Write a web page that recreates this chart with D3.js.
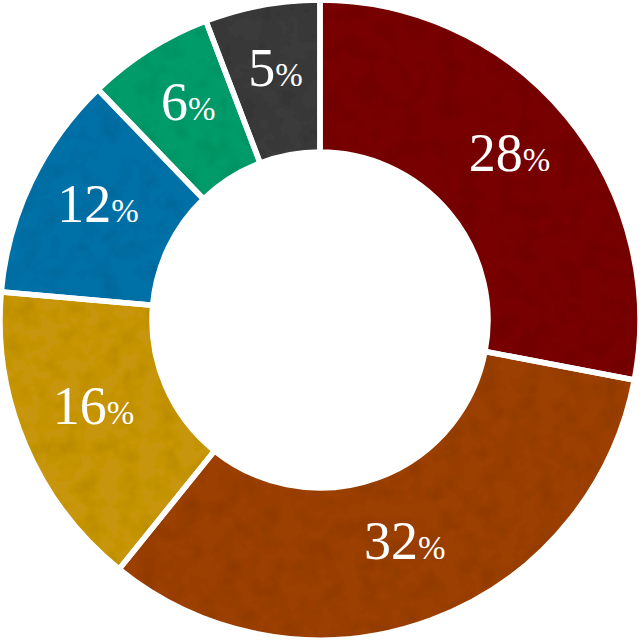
<!DOCTYPE html>
<html><head><meta charset="utf-8">
<script src="https://cdn.jsdelivr.net/npm/d3@7"></script>
<style>html,body{margin:0;padding:0;background:#fff}svg{display:block}</style>
</head><body>
<script>
const categories = ["A","B","C","D","E","F"];
const values = [28.0, 32.8, 15.6, 11.4, 6.4, 5.8];
const labels = ["28", "32", "16", "12", "6", "5"];
const colors = ["#780000", "#9b3f00", "#c8960a", "#0071a7", "#009b69", "#3b3b3b"];

const W = 640, H = 640;
const svg = d3.select("body").append("svg").attr("width", W).attr("height", H);

const defs = svg.append("defs");
const f = defs.append("filter").attr("id", "grain").attr("x", 0).attr("y", 0).attr("width", "100%").attr("height", "100%");
f.append("feTurbulence").attr("type", "fractalNoise").attr("baseFrequency", 0.05).attr("numOctaves", 3).attr("seed", 4).attr("result", "noise");
f.append("feColorMatrix").attr("in", "noise").attr("type", "matrix")
  .attr("values", "0 0 0 0 0  0 0 0 0 0  0 0 0 0 0  0 0 0 -0.35 0.2").attr("result", "dark");
f.append("feComposite").attr("in", "dark").attr("in2", "SourceGraphic").attr("operator", "in").attr("result", "darkIn");
f.append("feMerge").call(m => { m.append("feMergeNode").attr("in", "SourceGraphic"); m.append("feMergeNode").attr("in", "darkIn"); });

const g = svg.append("g").attr("transform", `translate(${W/2},${H/2})`);
const pie = d3.pie().sort(null).value(d => d);
const arcs = pie(values);
const arc = d3.arc().innerRadius(168).outerRadius(320);
const labelArc = d3.arc().innerRadius(246).outerRadius(246);

const slices = g.append("g").attr("filter", "url(#grain)");
slices.selectAll("path").data(arcs).join("path")
  .attr("d", arc).attr("fill", (d, i) => colors[i]);
g.append("g").selectAll("path").data(arcs).join("path")
  .attr("d", arc).attr("fill", "none").attr("stroke", "#fff").attr("stroke-width", 5.5).attr("stroke-linejoin", "miter");

const t = g.append("g").selectAll("text").data(arcs).join("text")
  .attr("transform", d => `translate(${labelArc.centroid(d)})`)
  .attr("text-anchor", "middle").attr("dy", "0.48em")
  .attr("font-family", "'Liberation Serif', serif").attr("fill", "#fff");
t.append("tspan").attr("font-size", 54).text((d, i) => labels[i]);
t.append("tspan").attr("font-size", 33).text("%");
</script>
</body></html>
